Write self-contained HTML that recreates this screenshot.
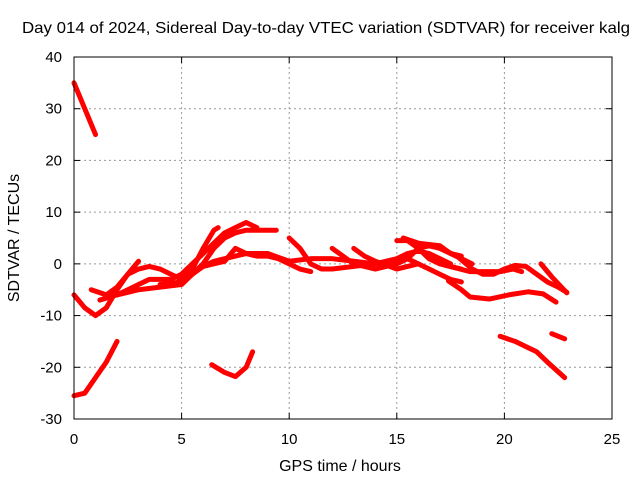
<!DOCTYPE html>
<html><head><meta charset="utf-8"><style>
body{margin:0;background:#fff}
svg{display:block;font-family:"Liberation Sans",sans-serif}
</style></head><body>
<svg id="chart" width="640" height="480">
<rect width="640" height="480" fill="#fff"/>
<text x="326" y="33" text-anchor="middle" font-size="16" textLength="608" lengthAdjust="spacingAndGlyphs">Day 014 of 2024, Sidereal Day-to-day VTEC variation (SDTVAR) for receiver kalg</text>
<text x="340" y="471" text-anchor="middle" font-size="16">GPS time / hours</text>
<text transform="translate(19,238) rotate(-90)" text-anchor="middle" font-size="16">SDTVAR / TECUs</text>
<g id="grid"></g><g id="series"></g>
<rect x="74" y="57" width="538" height="362" fill="none" stroke="#000" stroke-width="1"/>
</svg>
<script>
const xTicks=[0,5,10,15,20,25];
const yTicks=[40,30,20,10,0,-10,-20,-30];
const track1=[[0,35],[0.5,30],[1,25]];
const track2=[[0,-25.5],[0.5,-25],[1,-22],[1.5,-19],[2,-15]];
const track3=[[6.4,-19.5],[7,-21],[7.5,-21.8],[8,-20],[8.3,-17]];
const track4=[[19.8,-14],[20.5,-15],[21,-16],[21.5,-17],[22,-19],[22.8,-22]];
const track5=[[22.2,-13.5],[22.8,-14.5]];
const trackA=[[0,-6],[0.5,-8.5],[1,-10],[1.5,-8.5],[2,-5],[2.5,-2],[3,0.5]];
const trackB=[[0.8,-5],[1.5,-6],[2,-4.5],[2.5,-2],[3,-1],[3.5,-0.5],[4,-1],[4.5,-2],[5,-3],[5.5,-1],[6,3],[6.5,6.5],[6.7,7]];
const trackC=[[1.2,-7],[2,-6],[2.5,-5],[3,-4],[3.5,-3],[4,-3],[4.5,-3],[5,-2],[5.5,0],[6,2],[6.5,4],[7,6],[7.5,7],[8,8],[8.5,7]];
const trackD=[[2,-6],[3,-5],[4,-4.5],[5,-4],[5.5,-2],[6,0],[6.5,3],[7,5],[7.5,6],[8,6.5],[8.5,6.5],[9,6.5],[9.4,6.5]];
const trackE=[[4,-4],[5,-3.5],[5.5,-2],[6,-0.5],[6.5,0.5],[7,1],[7.5,1.5],[8,2],[8.5,1.5],[9,1.5],[9.5,1],[10,0],[10.5,-1],[11,-1.5]];
const trackF=[[6,-0.5],[6.5,0],[7,0.5],[7.5,3],[8,2],[9,2],[10,0.5]];
const trackG=[[10,5],[10.5,3],[11,0],[11.5,-1],[12,-1],[13,-0.5],[14,0],[15,0.5],[15.5,1],[16,0],[16.5,-1],[17,-2],[17.5,-3],[18,-3.5]];
const trackH=[[10,0.5],[11,1],[12,1],[13,0.5],[14,0],[15,1],[15.5,2],[16,2.5],[16.5,2],[17,1],[17.5,0]];
const trackI=[[12,3],[12.5,1.5],[13,0],[13.5,-0.5],[14,-1],[15,0],[15.5,1],[16,3],[16.5,3.5],[17,3],[17.5,2],[18,1.5]];
const trackJ=[[13,3],[13.5,1.5],[14,0.5],[15,-1],[16,0]];
const trackK=[[15,4.5],[15.5,4.5],[16,3],[16.5,1],[17,0],[17.5,-0.5],[18,-1]];
const trackL=[[15.3,5],[16,4],[17,3.5],[17.5,2],[18,1],[18.5,0]];
const trackM=[[17,3],[17.8,1.5],[18.5,-1],[19,-2],[19.5,-2],[20,-1],[20.5,-0.3],[21,-0.5],[21.5,-2],[22,-3.5],[22.5,-4.5],[22.9,-5.5]];
const trackN=[[17,0],[18.4,-1.5],[19.8,-1.5],[20.4,-1],[20.8,-1.5]];
const trackO=[[17.4,-3.3],[18,-5],[18.4,-6.4],[19.3,-6.8],[20.2,-6],[21.1,-5.4],[21.8,-5.8],[22.4,-7.4]];
const trackP=[[21.7,0],[22.2,-2.5],[22.9,-5.6]];
const tracks=[track1,track2,track3,track4,track5,trackA,trackB,trackC,trackD,trackE,trackF,trackG,trackH,trackI,trackJ,trackK,trackL,trackM,trackN,trackO,trackP];
const X=t=>74+t*(538/25);
const Y=v=>57+(40-v)*(362/70);
const NS="http://www.w3.org/2000/svg";
const grid=document.getElementById('grid'),ser=document.getElementById('series');
function mk(tag,attrs,parent){const e=document.createElementNS(NS,tag);for(const k in attrs)e.setAttribute(k,attrs[k]);parent.appendChild(e);return e;}
xTicks.forEach(t=>{
 if(t>0&&t<25){const g=mk('line',{x1:X(t),x2:X(t),y1:57,y2:419,stroke:'#999','stroke-dasharray':'2,3'},grid);
 
 }
 mk('line',{x1:X(t),x2:X(t),y1:419,y2:413,stroke:'#000'},grid);
 mk('line',{x1:X(t),x2:X(t),y1:57,y2:63,stroke:'#000'},grid);
 const l=mk('text',{x:X(t),y:444,'text-anchor':'middle','font-size':15},grid);l.textContent=t;
 
 
});
yTicks.forEach(v=>{
 if(v<40&&v>-30){const g=mk('line',{x1:74,x2:612,y1:Y(v),y2:Y(v),stroke:'#999','stroke-dasharray':'2,3'},grid);
 
 }
 mk('line',{x1:74,x2:80,y1:Y(v),y2:Y(v),stroke:'#000'},grid);
 mk('line',{x1:612,x2:606,y1:Y(v),y2:Y(v),stroke:'#000'},grid);
 const l=mk('text',{x:62,y:Y(v)+5,'text-anchor':'end','font-size':15},grid);l.textContent=v;
 
 
});
tracks.forEach(tr=>{
 const p=mk('polyline',{points:tr.map(d=>X(d[0])+','+Y(d[1])).join(' '),fill:'none',stroke:'#f00','stroke-width':5,'stroke-linejoin':'round','stroke-linecap':'round'},ser);
 
 
});
</script>
</body></html>
